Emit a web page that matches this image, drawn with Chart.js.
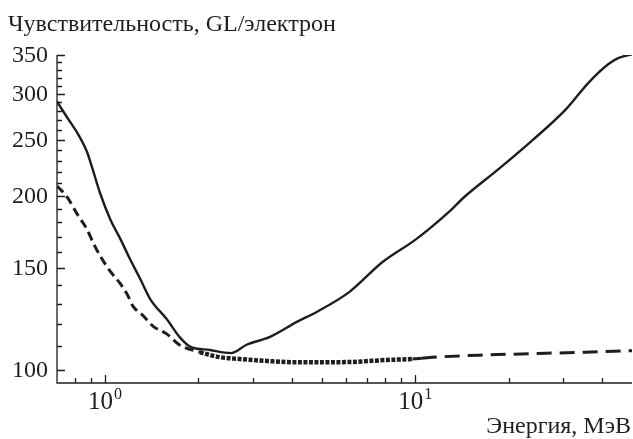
<!DOCTYPE html>
<html>
<head>
<meta charset="utf-8">
<script src="https://cdn.jsdelivr.net/npm/chart.js@4/dist/chart.umd.min.js"></script>
<style>
  html, body { margin: 0; padding: 0; background: #fff; }
  #wrap { width: 633px; height: 439px; position: relative; }
</style>
</head>
<body>
<div id="wrap"><canvas id="c" width="633" height="439"></canvas></div>
<script>
// Sensitivity vs. electron energy (both axes logarithmic)
const energySolid = [0.70, 0.755, 0.82, 0.875, 0.915, 0.964, 1.04, 1.12, 1.20, 1.30, 1.40, 1.58, 1.74, 1.88, 2.18, 2.43, 2.55, 2.86, 3.39, 4.14, 4.81, 6.14, 7.83, 10.1, 12.9, 14.4, 18.6, 23.8, 30.6, 36.3, 42.1, 45.3, 50];
const sensSolid   = [291, 273, 255, 238, 221, 202, 182, 168.5, 156, 143.5, 132.5, 122.5, 114, 109.8, 108.3, 107.2, 107.0, 110.6, 114, 121, 126, 136.5, 153.5, 168.5, 188, 199, 222.5, 249, 282, 314, 338, 346, 351];

const energyDashed = [0.70, 0.755, 0.813, 0.875, 0.915, 0.964, 1.04, 1.12, 1.18, 1.23, 1.33, 1.43, 1.58, 1.74, 2.02, 2.34, 2.72, 3.32, 4.02, 5.29, 6.27, 8.07, 9.8, 10.5, 11.7, 16.9, 24.5, 35.5, 50];
const sensDashed   = [208, 199, 186, 175, 166, 157.5, 148, 141, 135, 129, 124, 119, 115.5, 110.5, 107.4, 105.3, 104.5, 103.7, 103.2, 103.2, 103.3, 104.1, 104.5, 104.8, 105.3, 106.2, 106.8, 107.4, 108];

const yMajorTicks = [100, 150, 200, 250, 300, 350];
const yMinorTicks = [110, 120, 130, 140, 160, 170, 180, 190, 210, 220, 230, 240, 260, 270, 280, 290, 310, 320, 330, 340];
const xMajorTicks = [1, 10];
const xMinorTicks = [0.8, 0.9, 2, 3, 4, 5, 6, 7, 8, 9, 20, 30, 40];
const xMajorLabels = [['10', '0'], ['10', '1']];

const yTitle = 'Чувствительность, GL/электрон';
const xTitle = 'Энергия, МэВ';

const INK = '#1e1e1e';
const FONT = '"Liberation Serif", "DejaVu Serif", serif';

function toPoints(xs, ys) { return xs.map((x, i) => ({ x: x, y: ys[i] })); }

const axisDecor = {
  id: 'axisDecor',
  afterDraw(chart) {
    const ctx = chart.ctx;
    const xs = chart.scales.x, ys = chart.scales.y;
    const area = chart.chartArea;
    ctx.save();
    ctx.strokeStyle = INK;
    ctx.fillStyle = INK;
    ctx.lineWidth = 1.3;
    // axis lines
    ctx.beginPath();
    ctx.moveTo(area.left, area.top);
    ctx.lineTo(area.left, area.bottom);
    ctx.lineTo(area.right, area.bottom);
    ctx.stroke();
    // inward tick marks
    ctx.beginPath();
    yMajorTicks.forEach(v => { const p = Math.round(ys.getPixelForValue(v)) + 0.5; ctx.moveTo(area.left, p); ctx.lineTo(area.left + 8, p); });
    yMinorTicks.forEach(v => { const p = Math.round(ys.getPixelForValue(v)) + 0.5; ctx.moveTo(area.left, p); ctx.lineTo(area.left + 5, p); });
    xMajorTicks.forEach(v => { const p = Math.round(xs.getPixelForValue(v)) + 0.5; ctx.moveTo(p, area.bottom); ctx.lineTo(p, area.bottom - 8); });
    xMinorTicks.forEach(v => { const p = Math.round(xs.getPixelForValue(v)) + 0.5; ctx.moveTo(p, area.bottom); ctx.lineTo(p, area.bottom - 5); });
    ctx.stroke();
    // y tick labels
    ctx.font = '24px ' + FONT;
    ctx.textAlign = 'right';
    ctx.textBaseline = 'middle';
    yMajorTicks.forEach(v => ctx.fillText(String(v), area.left - 9, ys.getPixelForValue(v) + 1));
    // x tick labels: base with superscript exponent
    ctx.textBaseline = 'alphabetic';
    xMajorTicks.forEach((v, i) => {
      const p = xs.getPixelForValue(v);
      const [base, exp] = xMajorLabels[i];
      ctx.font = '25px ' + FONT;
      const wb = ctx.measureText(base).width;
      ctx.font = '16px ' + FONT;
      const we = ctx.measureText(exp).width;
      const start = p - (wb + we + 1) / 2;
      ctx.textAlign = 'left';
      ctx.font = '25px ' + FONT;
      ctx.fillText(base, start, area.bottom + 26);
      ctx.font = '16px ' + FONT;
      ctx.fillText(exp, start + wb + 1, area.bottom + 16);
    });
    // axis titles
    ctx.font = '24px ' + FONT;
    ctx.textAlign = 'left';
    ctx.fillText(yTitle, 8, 31);
    ctx.textAlign = 'right';
    ctx.fillText(xTitle, 631, 433);
    ctx.restore();
  }
};

new Chart(document.getElementById('c'), {
  type: 'line',
  data: {
    datasets: [
      {
        label: 'solid',
        data: toPoints(energySolid, sensSolid),
        borderColor: INK,
        borderWidth: 2.4,
        pointRadius: 0,
        cubicInterpolationMode: 'monotone',
        fill: false
      },
      {
        label: 'dashed',
        data: toPoints(energyDashed, sensDashed),
        borderColor: INK,
        borderWidth: 3,
        pointRadius: 0,
        cubicInterpolationMode: 'monotone',
        fill: false,
        segment: {
          borderDash: c => {
            const x = c.p0.parsed.x;
            if (x < 2.0) return [9, 5];
            if (x < 9.8) return [4, 1.5];
            if (x < 10.4) return [];
            return [15, 8];
          },
          borderWidth: c => {
            const x = c.p0.parsed.x;
            return (x >= 2.0 && x < 9.8) ? 4.5 : 3;
          }
        }
      }
    ]
  },
  options: {
    responsive: false,
    animation: false,
    layout: { padding: { left: 57, right: 1, top: 55, bottom: 56 } },
    plugins: { legend: { display: false }, tooltip: { enabled: false } },
    scales: {
      x: {
        type: 'logarithmic',
        min: 0.7, max: 50,
        grid: { display: false, drawTicks: false },
        border: { display: false },
        ticks: { display: false },
        title: { display: false }
      },
      y: {
        type: 'logarithmic',
        min: 95, max: 350,
        grid: { display: false, drawTicks: false },
        border: { display: false },
        ticks: { display: false },
        title: { display: false }
      }
    }
  },
  plugins: [axisDecor]
});
</script>
</body>
</html>
